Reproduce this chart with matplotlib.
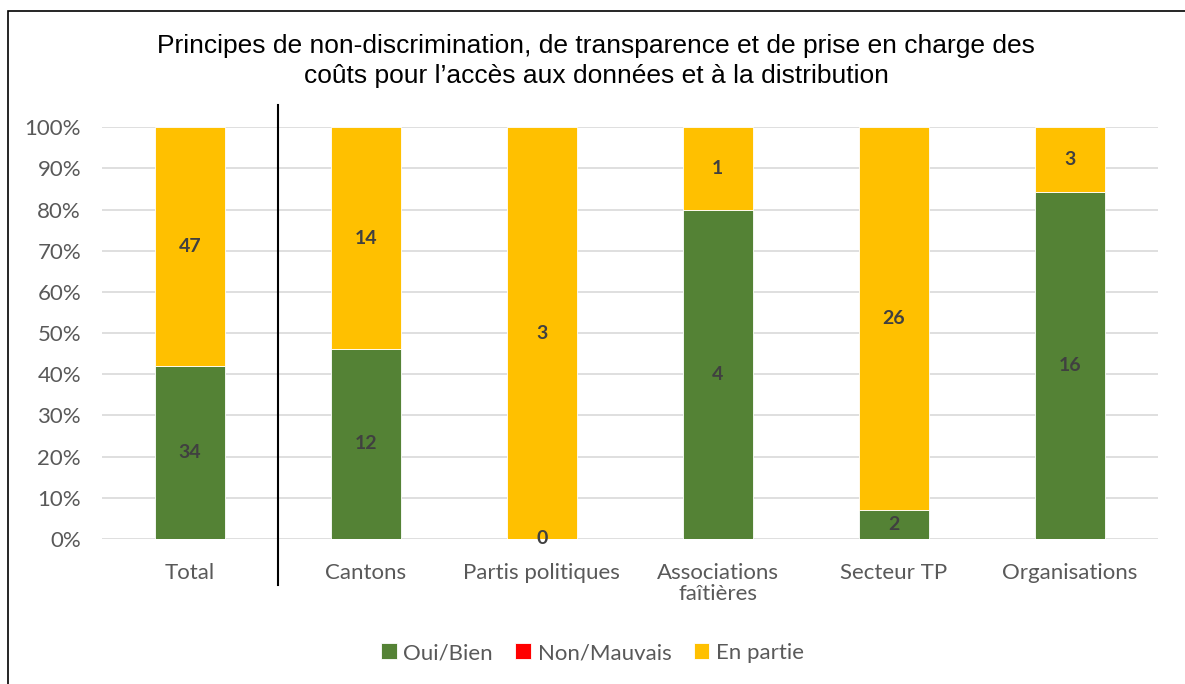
import numpy as np
import matplotlib.pyplot as plt
from matplotlib.patches import Rectangle
import matplotlib.transforms as mtransforms

# données
categories = ['Total', 'Cantons', 'Partis politiques', 'Associations\nfaîtières', 'Secteur TP', 'Organisations']
oui = [34, 12, 0, 4, 2, 16]
non = [0, 0, 0, 0, 0, 0]
partie = [47, 14, 3, 1, 26, 3]
series_names = ['Oui/Bien', 'Non/Mauvais', 'En partie']
colors = ['#548235', '#FF0000', '#FFC000']

plt.rcParams['font.family'] = ['Lato', 'DejaVu Sans']

oui = np.array(oui, dtype=float)
non = np.array(non, dtype=float)
partie = np.array(partie, dtype=float)
total = oui + non + partie
p_oui = oui / total * 100
p_non = non / total * 100
p_partie = partie / total * 100

fig = plt.figure(figsize=(11.85, 6.84), dpi=100)
ax = fig.add_axes([0.086, 0.212, 0.891, 0.602])

x = np.arange(len(categories))
w = 0.4
ax.bar(x, p_oui, w, color=colors[0], edgecolor='white', linewidth=0.6, label=series_names[0], zorder=3)
ax.bar(x, p_non, w, bottom=p_oui, color=colors[1], edgecolor='white', linewidth=0.6, label=series_names[1], zorder=3)
ax.bar(x, p_partie, w, bottom=p_oui + p_non, color=colors[2], edgecolor='white', linewidth=0.6, label=series_names[2], zorder=3)

# étiquettes de données
for i in range(len(categories)):
    ax.text(x[i], p_oui[i] / 2, '%d' % oui[i], ha='center', va='center',
            fontsize=14, fontweight='bold', color='#404040', zorder=4)
    ax.text(x[i], p_oui[i] + p_non[i] + p_partie[i] / 2, '%d' % partie[i], ha='center', va='center',
            fontsize=14, fontweight='bold', color='#404040', zorder=4)

ax.set_xlim(-0.5, len(categories) - 0.5)
ax.set_ylim(0, 100)
ax.set_yticks(np.arange(0, 101, 10))
ax.set_yticklabels(['%d%%' % v for v in range(0, 101, 10)])
ax.set_xticks(x)
ax.set_xticklabels(categories, linespacing=1.1)
ax.tick_params(axis='both', length=0, colors='#595959', labelsize=16)
ax.tick_params(axis='x', pad=17)
ax.tick_params(axis='y', pad=15)
ax.grid(axis='y', color='#D9D9D9', linewidth=1.2, zorder=0)
for s in ax.spines.values():
    s.set_visible(False)

# séparateur vertical
trans = mtransforms.blended_transform_factory(ax.transData, fig.transFigure)
ax.plot([0.5, 0.5], [1 - 105 / 684, 1 - 585 / 684], color='black', linewidth=1.5,
        transform=trans, clip_on=False)

fig.text(0.503, 1 - 61 / 684, 'Principes de non-discrimination, de transparence et de prise en charge des\ncoûts pour l\u2019accès aux données et à la distribution',
         ha='center', va='center', fontsize=19, family=['Liberation Sans'], linespacing=1.27)

leg = fig.legend(loc='center', bbox_to_anchor=(0.5, 1 - 653 / 684), ncol=3, frameon=False,
                 fontsize=16, handlelength=0.7, handleheight=0.7, columnspacing=1.0, handletextpad=0.3)
for t in leg.get_texts():
    t.set_color('#595959')

fig.patches.append(Rectangle((8 / 1185, -0.01), 1.0, 1 - 11 / 684 + 0.01, transform=fig.transFigure,
                             fill=False, edgecolor='black', linewidth=1.2))

fig.savefig('out.png', dpi=100)
